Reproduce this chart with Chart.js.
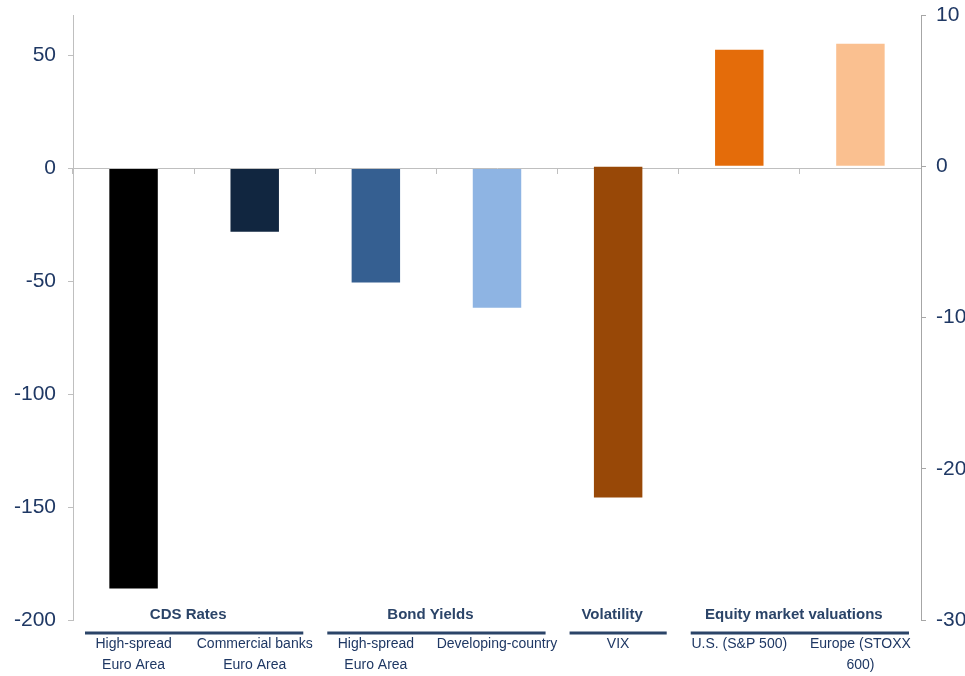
<!DOCTYPE html>
<html>
<head>
<meta charset="utf-8">
<script src="https://cdn.jsdelivr.net/npm/chart.js@4/dist/chart.umd.min.js"></script>
<style>
  html, body { margin: 0; padding: 0; background: #fff; }
  #wrap { width: 965px; height: 676px; }
</style>
</head>
<body>
<div id="wrap"><canvas id="chart-mercados"></canvas></div>
<script>
// Categorías del eje X (etiquetas en dos líneas)
const categorias = [
    ['High-spread', 'Euro Area'],
    ['Commercial banks', 'Euro Area'],
    ['High-spread', 'Euro Area'],
    'Developing-country',
    'VIX',
    'U.S. (S&P 500)',
    ['Europe (STOXX', '600)'],
];

// Puntos básicos (eje izquierdo)
const valoresPb = [-186, -28, -50.5, -61.7, null, null, null];
// Puntos / porcentaje (eje derecho)
const valoresPct = [null, null, null, null, -21.9, 7.7, 8.1];

const coloresBarras = ['#000000', '#112640', '#355F91', '#8EB4E3', '#984807', '#E46C0A', '#FAC090'];

// Grupos: nombre, primera y última categoría
const grupos = ['CDS Rates', 'Bond Yields', 'Volatility', 'Equity market valuations'];
const gruposInicio = [0, 2, 4, 5];
const gruposFin = [1, 3, 4, 6];

// Escalas de los ejes
const ejeIzqMin = -200, ejeIzqMax = 68, ejeIzqPaso = 50;
const ejeDerMin = -30, ejeDerMax = 10, ejeDerPaso = 10;

const COLORS = {
    texto: '#1F3864',
    eje: '#BFBFBF',
    grupo: '#2B4468',
};
const FUENTE = "'Liberation Sans Narrow', 'Arial Narrow', 'Liberation Sans', sans-serif";

// Rótulos de grupo con su línea debajo
const gruposPlugin = {
    id: 'grupos',
    afterDraw(chart) {
        const ctx = chart.ctx;
        const x = chart.scales.x;
        const area = chart.chartArea;
        const paso = x.getPixelForValue(1) - x.getPixelForValue(0);
        ctx.save();
        grupos.forEach((nombre, i) => {
            const x0 = x.getPixelForValue(gruposInicio[i]) - paso / 2 + 12;
            const x1 = x.getPixelForValue(gruposFin[i]) + paso / 2 - 12;
            ctx.strokeStyle = COLORS.grupo;
            ctx.lineWidth = 3;
            ctx.beginPath();
            ctx.moveTo(x0, area.bottom + 13);
            ctx.lineTo(x1, area.bottom + 13);
            ctx.stroke();
            ctx.fillStyle = COLORS.grupo;
            ctx.font = 'bold 15px ' + FUENTE;
            ctx.textAlign = 'center';
            ctx.textBaseline = 'middle';
            ctx.fillText(nombre, (x0 + x1) / 2 - 6, area.bottom - 5);
        });
        ctx.restore();
    }
};

const soloMultiplos = paso => axis => {
    axis.ticks = axis.ticks.filter(t => Math.abs(t.value / paso - Math.round(t.value / paso)) < 1e-6);
};

// Ancho fijo para los ejes verticales, sin margen extra arriba/abajo
const anchoFijo = ancho => s => {
    s.width = ancho;
    s.paddingTop = 0;
    s.paddingBottom = 0;
};

const ctx = document.getElementById('chart-mercados');
new Chart(ctx, {
    type: 'bar',
    data: {
        labels: categorias,
        datasets: [
            {
                label: 'pb',
                data: valoresPb,
                yAxisID: 'y',
                backgroundColor: coloresBarras,
                barPercentage: 0.4,
                categoryPercentage: 1,
            },
            {
                label: 'pct',
                data: valoresPct,
                yAxisID: 'y1',
                backgroundColor: coloresBarras,
                barPercentage: 0.4,
                categoryPercentage: 1,
            }
        ]
    },
    options: {
        responsive: true,
        maintainAspectRatio: false,
        animation: false,
        grouped: false,
        layout: { padding: { top: 15 } },
        plugins: {
            legend: { display: false },
            tooltip: { enabled: false }
        },
        scales: {
            // Línea del cero con marcas entre categorías
            x: {
                type: 'category',
                position: { y: 0 },
                offset: true,
                ticks: { display: false },
                grid: { drawOnChartArea: false, offset: true, tickLength: 5, color: COLORS.eje },
                border: { color: COLORS.eje },
            },
            // Etiquetas de categoría abajo
            x2: {
                type: 'category',
                position: 'bottom',
                offset: true,
                labels: categorias,
                grid: { display: false, drawTicks: false },
                border: { display: false },
                ticks: {
                    color: COLORS.texto,
                    font: { family: FUENTE, size: 14, lineHeight: 1.5 },
                    padding: 14,
                    autoSkip: false,
                    maxRotation: 0,
                },
                afterFit: s => { s.height = 56; },
            },
            y: {
                position: 'left',
                min: ejeIzqMin,
                max: ejeIzqMax,
                ticks: {
                    stepSize: ejeIzqPaso,
                    color: COLORS.texto,
                    font: { family: FUENTE, size: 21 },
                    padding: 12,
                },
                afterBuildTicks: soloMultiplos(ejeIzqPaso),
                grid: { drawOnChartArea: false, tickLength: 5, color: COLORS.eje },
                border: { color: COLORS.eje },
                afterFit: anchoFijo(73),
            },
            y1: {
                position: 'right',
                min: ejeDerMin,
                max: ejeDerMax,
                ticks: {
                    stepSize: ejeDerPaso,
                    color: COLORS.texto,
                    font: { family: FUENTE, size: 21 },
                    padding: 10,
                },
                grid: { drawOnChartArea: false, tickLength: 5, color: '#A6A6A6' },
                border: { color: '#A6A6A6' },
                afterFit: anchoFijo(44),
            }
        }
    },
    plugins: [gruposPlugin]
});
</script>
</body>
</html>
